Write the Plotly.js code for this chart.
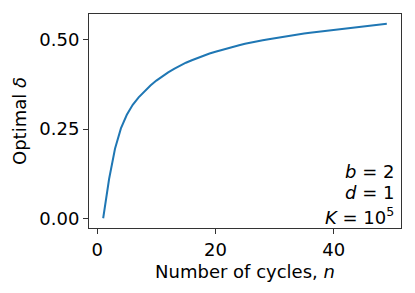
<!DOCTYPE html>
<html>
<head>
<meta charset="utf-8">
<script src="https://cdn.plot.ly/plotly-3.0.1.min.js"></script>
<style>html,body{margin:0;padding:0;background:#fff;}#chart{width:415px;height:293px;}</style>
</head>
<body>
<div id="chart"></div>
<script>
const cycles = [1,2,3,4,5,6,7,8,9,10,11,12,13,14,15,16,17,18,19,20,21,22,23,24,25,26,27,28,29,30,31,32,33,34,35,36,37,38,39,40,41,42,43,44,45,46,47,48,49];
const optimalDelta = [0.000,0.110,0.195,0.252,0.290,0.318,0.339,0.356,0.372,0.386,0.398,0.409,0.419,0.428,0.436,0.443,0.450,0.456,0.462,0.467,0.472,0.477,0.481,0.485,0.489,0.493,0.496,0.499,0.502,0.505,0.508,0.511,0.513,0.516,0.518,0.520,0.522,0.524,0.526,0.529,0.531,0.533,0.535,0.537,0.538,0.540,0.542,0.543,0.545];
const xTicks = [0,20,40];
const yTicks = [0,0.25,0.5];
const yTickLabels = ['0.00','0.25','0.50'];
const annotLines = ['<i>b</i> = 2','<i>d</i> = 1','<i>K</i> = 10<sup>5</sup>'];

const font = {family:'DejaVu Sans', size:18, color:'#000'};
const trace = {x:cycles, y:optimalDelta, type:'scatter', mode:'lines', line:{color:'#1f77b4', width:2}, hoverinfo:'skip'};
const axisCommon = {showgrid:false, zeroline:false, showline:true, mirror:true, linecolor:'#333', linewidth:1, ticks:'outside', ticklen:5, tickcolor:'#333', tickfont:font};
const annYs = [171, 192, 216];
const annotations = annotLines.map((t,i)=>({
  text:t, xref:'paper', yref:'paper', x:(396-89)/312, y:(228-annYs[i])/214,
  xanchor:'right', yanchor:'middle', showarrow:false, font:font
}));
const layout = {
  width:415, height:293,
  margin:{l:89, r:14, t:14, b:65},
  paper_bgcolor:'#fff', plot_bgcolor:'#fff',
  showlegend:false,
  xaxis:Object.assign({}, axisCommon, {range:[-1.4,51.4], tickvals:xTicks, title:{text:'Number of cycles, <i>n</i>', font:font, standoff:6}}),
  yaxis:Object.assign({}, axisCommon, {range:[-0.0273,0.5726], tickvals:yTicks, ticktext:yTickLabels, title:{text:'Optimal <i>δ</i>', font:font, standoff:8}}),
  annotations:annotations
};
Plotly.newPlot('chart',[trace],layout,{staticPlot:true, displayModeBar:false});
</script>
</body>
</html>
